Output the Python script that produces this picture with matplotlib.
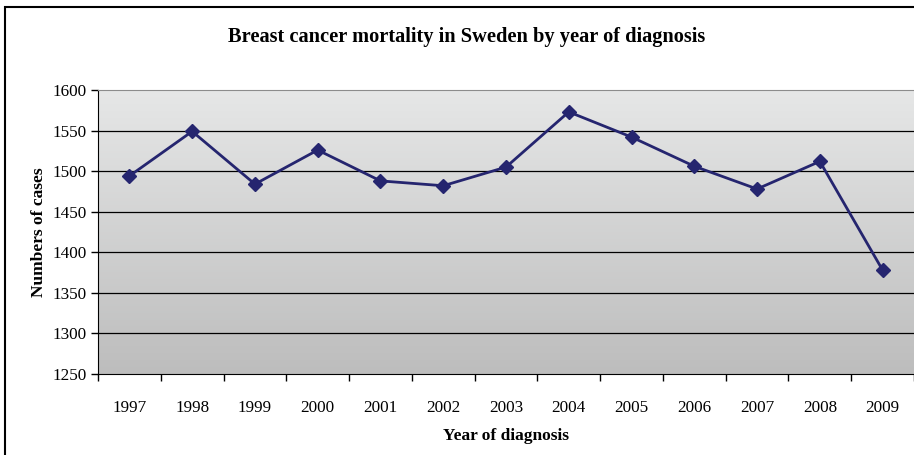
import matplotlib
matplotlib.use("Agg")
import matplotlib.pyplot as plt
import numpy as np
from matplotlib.patches import Rectangle

years = ['1997', '1998', '1999', '2000', '2001', '2002', '2003',
         '2004', '2005', '2006', '2007', '2008', '2009']
cases = [1494, 1549, 1484, 1526, 1488, 1482, 1505,
         1573, 1542, 1506, 1478, 1512, 1378]
y_ticks = [1250, 1300, 1350, 1400, 1450, 1500, 1550, 1600]

plt.rcParams['font.family'] = ['Liberation Serif', 'DejaVu Serif']

fig = plt.figure(figsize=(9.14, 4.55), dpi=100)
ax = fig.add_axes([98 / 914, 81 / 455, 816 / 914, 284 / 455])

# gradient plot-area background, light at top, darker at bottom
grad = np.linspace(0, 1, 256).reshape(-1, 1)
ax.imshow(grad, extent=[0, 1, 0, 1], transform=ax.transAxes, aspect='auto',
          cmap=matplotlib.colors.LinearSegmentedColormap.from_list(
              'g', ['#e6e7e7', '#bdbdbd']),
          zorder=0)

x = np.arange(len(years))
ax.plot(x, cases, color='#25256f', lw=2, marker='D', ms=7.5, zorder=3)

ax.set_xlim(-0.5, len(years) - 0.5)
ax.set_ylim(1250, 1600)
ax.set_yticks(y_ticks)
ax.set_xticks(x)
ax.set_xticklabels(years)
ax.set_xticks(np.arange(-0.5, len(years)), minor=True)
ax.tick_params(axis='x', which='major', length=0, pad=19, labelsize=12.3)
ax.tick_params(axis='x', which='minor', length=5, width=1, direction='out')
ax.tick_params(axis='y', length=5, width=1, direction='out', labelsize=12.3, pad=3)

for v in y_ticks[1:-1]:
    ax.axhline(v, color='black', lw=0.9, zorder=1)

ax.spines['right'].set_visible(False)
ax.spines['top'].set_color('#8c8c8c')
ax.spines['left'].set_color('black')
ax.spines['bottom'].set_color('black')

ax.set_xlabel('Year of diagnosis', fontsize=12.5, fontweight='bold', labelpad=8)
ax.set_ylabel('Numbers of cases', fontsize=12.5, fontweight='bold', labelpad=4)
fig.text(0.511, 1 - 37 / 455, 'Breast cancer mortality in Sweden by year of diagnosis',
         ha='center', va='center', fontsize=14.7, fontweight='bold')

# chart border
fig.patches.append(Rectangle((5 / 914, -0.05), 1.1, 1 - 7 / 455 + 0.05,
                             transform=fig.transFigure, fill=False,
                             edgecolor='black', lw=1.5))

fig.savefig('out.png', dpi=100, facecolor='white')
